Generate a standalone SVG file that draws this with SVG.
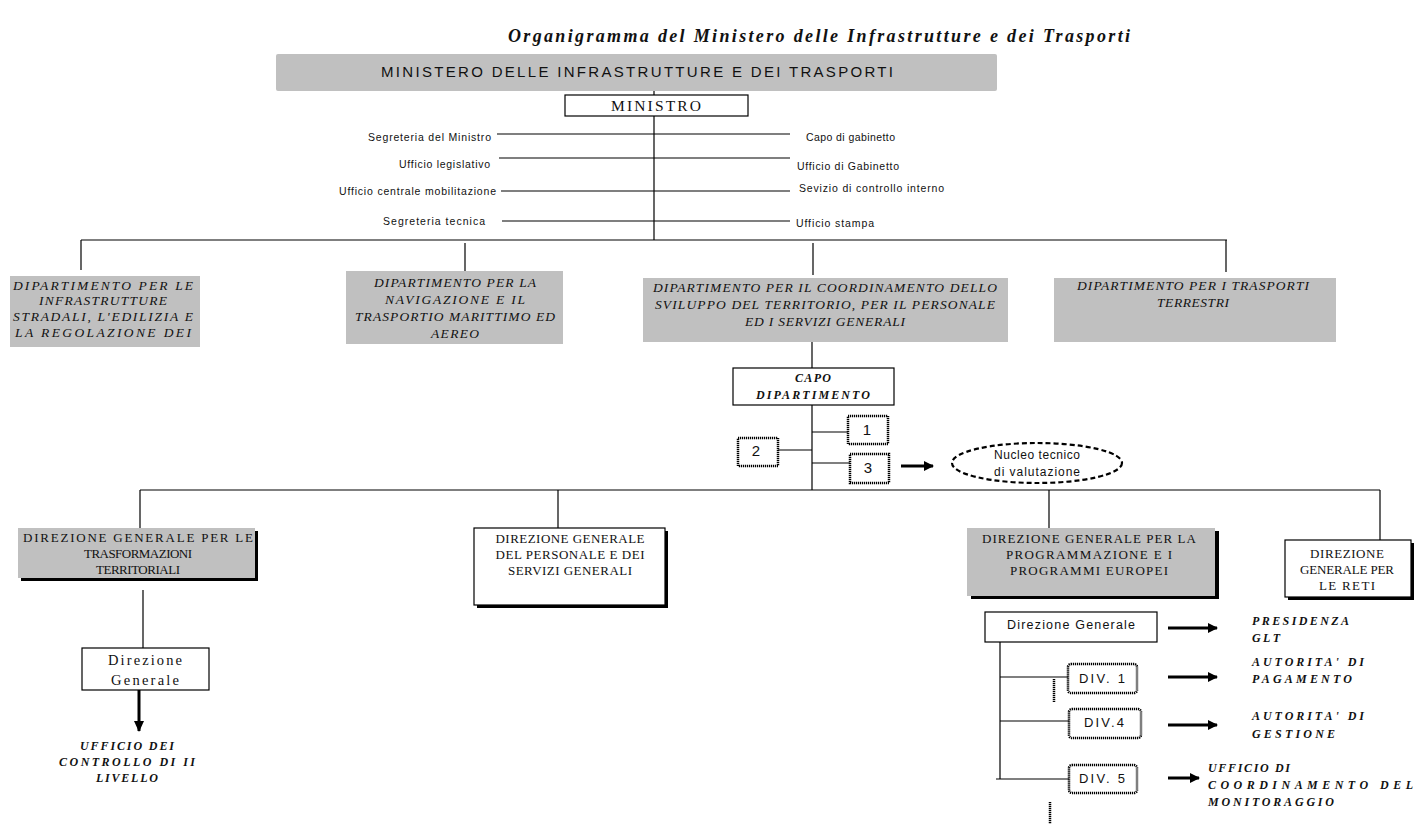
<svg xmlns="http://www.w3.org/2000/svg" width="1416" height="824" viewBox="0 0 1416 824">
<defs>
<marker id="ah" markerWidth="10" markerHeight="10" refX="9" refY="5" orient="auto" markerUnits="userSpaceOnUse">
<path d="M0,0 L10,5 L0,10 z" fill="#000"/>
</marker>
<marker id="ahd" markerWidth="12" markerHeight="10" refX="10" refY="5" orient="auto" markerUnits="userSpaceOnUse">
<path d="M0,0 L11,5 L0,10 z" fill="#000"/>
</marker>
</defs>
<style>
.gray{fill:#c0c0c0;stroke:none}
.box{fill:#fff;stroke:#000;stroke-width:1.2}
.shadow{fill:#000}
.dot{fill:#fff;stroke:#000;stroke-width:2.5;stroke-dasharray:1.2 0.8}
.ln{stroke:#000;stroke-width:1.2;fill:none}
.thick{stroke:#000;stroke-width:3;fill:none}
.dotl{stroke:#000;stroke-width:2.5;stroke-dasharray:1.2 0.8;fill:none}
.sans{font-family:"Liberation Sans",Arial,sans-serif;fill:#111}
.serif{font-family:"Liberation Serif","Times New Roman",serif;fill:#111}
.it{font-family:"Liberation Serif","Times New Roman",serif;font-style:italic;fill:#111}
.bi{font-family:"Liberation Serif","Times New Roman",serif;font-style:italic;font-weight:bold;fill:#111}
.c{text-anchor:middle}
.r{text-anchor:end}
</style>
<rect width="1416" height="824" fill="#fff"/>
<text class="bi c" x="819" y="42" font-size="18" textLength="622" lengthAdjust="spacing">Organigramma del Ministero delle Infrastrutture e dei Trasporti</text>

<g id="connectors">
<line class="ln" x1="654" y1="90" x2="654" y2="240"/>
<line class="ln" x1="497" y1="134" x2="790" y2="134"/>
<line class="ln" x1="499" y1="158" x2="790" y2="158"/>
<line class="ln" x1="501" y1="191" x2="790" y2="191"/>
<line class="ln" x1="502" y1="221" x2="790" y2="221"/>
<line class="ln" x1="81" y1="240" x2="1227" y2="240"/>
<line class="ln" x1="81" y1="240" x2="81" y2="270"/>
<line class="ln" x1="465" y1="243" x2="465" y2="271"/>
<line class="ln" x1="813" y1="243" x2="813" y2="275"/>
<line class="ln" x1="1226" y1="240" x2="1226" y2="272"/>
<line class="ln" x1="812" y1="334" x2="812" y2="368"/>
<line class="ln" x1="812" y1="405" x2="812" y2="490"/>
<line class="ln" x1="812" y1="432" x2="848" y2="432"/>
<line class="ln" x1="778" y1="450" x2="812" y2="450"/>
<line class="ln" x1="812" y1="463" x2="850" y2="463"/>
<line class="thick" x1="901" y1="466" x2="933" y2="466" marker-end="url(#ah)"/>
<line class="ln" x1="140" y1="490" x2="1380" y2="490"/>
<line class="ln" x1="140" y1="490" x2="140" y2="528"/>
<line class="ln" x1="558" y1="490" x2="558" y2="528"/>
<line class="ln" x1="1049" y1="490" x2="1049" y2="528"/>
<line class="ln" x1="1380" y1="490" x2="1380" y2="540"/>
<line class="ln" x1="143" y1="590" x2="143" y2="648"/>
<line class="thick" x1="139" y1="690" x2="139" y2="731" marker-end="url(#ahd)"/>
<line class="ln" x1="1000" y1="642" x2="1000" y2="779"/>
<line class="ln" x1="1000" y1="677" x2="1068" y2="677"/>
<line class="dotl" x1="1054" y1="679" x2="1054" y2="702"/>
<line class="ln" x1="1000" y1="721" x2="1069" y2="721"/>
<line class="ln" x1="996" y1="779" x2="1069" y2="779"/>
<line class="dotl" x1="1050" y1="802" x2="1050" y2="824"/>
<line class="thick" x1="1168" y1="628" x2="1217" y2="628" marker-end="url(#ah)"/>
<line class="thick" x1="1168" y1="677" x2="1217" y2="677" marker-end="url(#ah)"/>
<line class="thick" x1="1168" y1="725" x2="1217" y2="725" marker-end="url(#ah)"/>
<line class="thick" x1="1168" y1="778" x2="1199" y2="778" marker-end="url(#ah)"/>
</g>

<g id="ministero">
<rect class="gray" x="276" y="54" width="721" height="37" rx="2"/>
<text class="sans c" x="637" y="77" font-size="15" textLength="512" lengthAdjust="spacing">MINISTERO DELLE INFRASTRUTTURE E DEI TRASPORTI</text>
</g>
<g id="ministro">
<rect class="box" x="565" y="95" width="183" height="21"/>
<text class="serif c" x="656" y="111" font-size="15.5" textLength="90" lengthAdjust="spacing">MINISTRO</text>
</g>

<g id="staff" font-size="10.5">
<text class="sans r" x="491" y="141" textLength="123" lengthAdjust="spacing">Segreteria del Ministro</text>
<text class="sans r" x="490" y="168" textLength="91" lengthAdjust="spacing">Ufficio legislativo</text>
<text class="sans r" x="496" y="195" textLength="157" lengthAdjust="spacing">Ufficio centrale mobilitazione</text>
<text class="sans r" x="485" y="225" textLength="102" lengthAdjust="spacing">Segreteria tecnica</text>
<text class="sans" x="806" y="141" textLength="89" lengthAdjust="spacing">Capo di gabinetto</text>
<text class="sans" x="797" y="170" textLength="102" lengthAdjust="spacing">Ufficio di Gabinetto</text>
<text class="sans" x="799" y="192" textLength="145" lengthAdjust="spacing">Sevizio di controllo interno</text>
<text class="sans" x="796" y="227" textLength="78" lengthAdjust="spacing">Ufficio stampa</text>
</g>

<g id="dip1" font-size="13.5">
<rect class="gray" x="10" y="276" width="190" height="71"/>
<text class="it c" x="103" y="290" textLength="180" lengthAdjust="spacing">DIPARTIMENTO PER LE</text>
<text class="it c" x="103" y="305" textLength="128" lengthAdjust="spacing">INFRASTRUTTURE</text>
<text class="it c" x="103" y="321" textLength="180" lengthAdjust="spacing">STRADALI, L'EDILIZIA E</text>
<text class="it c" x="103" y="337" textLength="176" lengthAdjust="spacing">LA REGOLAZIONE DEI</text>
</g>
<g id="dip2" font-size="13.5">
<rect class="gray" x="346" y="271" width="217" height="73"/>
<text class="it c" x="455" y="287" textLength="162" lengthAdjust="spacing">DIPARTIMENTO PER LA</text>
<text class="it c" x="455" y="304" textLength="140" lengthAdjust="spacing">NAVIGAZIONE E IL</text>
<text class="it c" x="455" y="321" textLength="200" lengthAdjust="spacing">TRASPORTIO MARITTIMO ED</text>
<text class="it c" x="455" y="338" textLength="48" lengthAdjust="spacing">AEREO</text>
</g>
<g id="dip3" font-size="13.5">
<rect class="gray" x="643" y="278" width="365" height="64"/>
<text class="it c" x="825" y="292" textLength="344" lengthAdjust="spacing">DIPARTIMENTO PER IL COORDINAMENTO DELLO</text>
<text class="it c" x="825" y="309" textLength="340" lengthAdjust="spacing">SVILUPPO DEL TERRITORIO, PER IL PERSONALE</text>
<text class="it c" x="825" y="326" textLength="160" lengthAdjust="spacing">ED I SERVIZI GENERALI</text>
</g>
<g id="dip4" font-size="13.5">
<rect class="gray" x="1054" y="278" width="282" height="64"/>
<text class="it c" x="1193" y="290" textLength="232" lengthAdjust="spacing">DIPARTIMENTO PER I TRASPORTI</text>
<text class="it c" x="1193" y="307" textLength="72" lengthAdjust="spacing">TERRESTRI</text>
</g>

<g id="capo" font-size="12">
<rect class="box" x="733" y="368" width="161" height="37"/>
<text class="bi c" x="813" y="382" textLength="36" lengthAdjust="spacing">CAPO</text>
<text class="bi c" x="813" y="399" textLength="114" lengthAdjust="spacing">DIPARTIMENTO</text>
</g>
<g id="u1"><rect class="dot" x="848" y="416" width="40" height="28"/><text class="sans c" x="867" y="435" font-size="15">1</text></g>
<g id="u2"><rect class="dot" x="738" y="438" width="40" height="28"/><text class="sans c" x="756" y="456" font-size="15">2</text></g>
<g id="u3"><rect class="dot" x="850" y="454" width="39" height="29"/><text class="sans c" x="868" y="473" font-size="15">3</text></g>
<g id="nucleo">
<ellipse cx="1037" cy="463" rx="85" ry="20" fill="#fff" stroke="#000" stroke-width="2.2" stroke-dasharray="5 3"/>
<text class="sans c" x="1037" y="459" font-size="12" textLength="86" lengthAdjust="spacing">Nucleo tecnico</text>
<text class="sans c" x="1037" y="476" font-size="12" textLength="86" lengthAdjust="spacing">di valutazione</text>
</g>

<g id="dirA" font-size="13">
<rect class="shadow" x="21" y="531" width="237" height="50"/>
<rect class="gray" x="18" y="528" width="237" height="50"/>
<text class="serif c" x="138" y="542" textLength="230" lengthAdjust="spacing">DIREZIONE GENERALE PER LE</text>
<text class="serif c" x="138" y="558" textLength="108" lengthAdjust="spacing">TRASFORMAZIONI</text>
<text class="serif c" x="138" y="574" textLength="84" lengthAdjust="spacing">TERRITORIALI</text>
</g>
<g id="dirB" font-size="13">
<rect class="shadow" x="477" y="531" width="191" height="77"/>
<rect class="box" x="474" y="528" width="191" height="77"/>
<text class="serif c" x="570" y="543" textLength="149" lengthAdjust="spacing">DIREZIONE GENERALE</text>
<text class="serif c" x="570" y="559" textLength="149" lengthAdjust="spacing">DEL PERSONALE E DEI</text>
<text class="serif c" x="570" y="575" textLength="124" lengthAdjust="spacing">SERVIZI GENERALI</text>
</g>
<g id="dirC" font-size="13">
<rect class="shadow" x="971" y="531" width="248" height="68"/>
<rect class="gray" x="967" y="528" width="248" height="68"/>
<text class="serif c" x="1089" y="543" textLength="214" lengthAdjust="spacing">DIREZIONE GENERALE PER LA</text>
<text class="serif c" x="1089" y="559" textLength="166" lengthAdjust="spacing">PROGRAMMAZIONE E I</text>
<text class="serif c" x="1089" y="575" textLength="158" lengthAdjust="spacing">PROGRAMMI EUROPEI</text>
</g>
<g id="dirD" font-size="13">
<rect class="shadow" x="1288" y="543" width="126" height="57"/>
<rect class="box" x="1285" y="540" width="126" height="57"/>
<text class="serif c" x="1347" y="558" textLength="74" lengthAdjust="spacing">DIREZIONE</text>
<text class="serif c" x="1347" y="574" textLength="94" lengthAdjust="spacing">GENERALE PER</text>
<text class="serif c" x="1347" y="590" textLength="56" lengthAdjust="spacing">LE RETI</text>
</g>

<g id="dgA" font-size="14.5">
<rect class="box" x="82" y="648" width="127" height="42"/>
<text class="serif c" x="145" y="665" textLength="74" lengthAdjust="spacing">Direzione</text>
<text class="serif c" x="145" y="685" textLength="68" lengthAdjust="spacing">Generale</text>
</g>
<g id="ufficioControllo" font-size="12">
<text class="bi c" x="127" y="750" textLength="94" lengthAdjust="spacing">UFFICIO DEI</text>
<text class="bi c" x="127" y="766" textLength="136" lengthAdjust="spacing">CONTROLLO DI II</text>
<text class="bi c" x="127" y="782" textLength="62" lengthAdjust="spacing">LIVELLO</text>
</g>

<g id="dgC">
<rect class="box" x="985" y="612" width="172" height="30"/>
<text class="sans c" x="1071" y="629" font-size="12.5" textLength="128" lengthAdjust="spacing">Direzione Generale</text>
</g>
<g id="div1"><rect class="dot" x="1068" y="664" width="69" height="29" rx="3"/><text class="sans c" x="1102" y="683" font-size="13" textLength="46" lengthAdjust="spacing">DIV. 1</text></g>
<g id="div4"><rect class="dot" x="1069" y="709" width="72" height="29" rx="3"/><text class="sans c" x="1104" y="727" font-size="13" textLength="40" lengthAdjust="spacing">DIV.4</text></g>
<g id="div5"><rect class="dot" x="1069" y="765" width="68" height="28" rx="3"/><text class="sans c" x="1102" y="783" font-size="13" textLength="46" lengthAdjust="spacing">DIV. 5</text></g>

<g id="presidenza" font-size="12">
<text class="bi" x="1252" y="625" textLength="97" lengthAdjust="spacing">PRESIDENZA</text>
<text class="bi" x="1252" y="642" textLength="28" lengthAdjust="spacing">GLT</text>
</g>
<g id="pagamento" font-size="12">
<text class="bi" x="1252" y="666" textLength="112" lengthAdjust="spacing">AUTORITA' DI</text>
<text class="bi" x="1252" y="683" textLength="100" lengthAdjust="spacing">PAGAMENTO</text>
</g>
<g id="gestione" font-size="12">
<text class="bi" x="1252" y="720" textLength="112" lengthAdjust="spacing">AUTORITA' DI</text>
<text class="bi" x="1252" y="738" textLength="83" lengthAdjust="spacing">GESTIONE</text>
</g>
<g id="monitoraggio" font-size="12">
<text class="bi" x="1208" y="772" textLength="82" lengthAdjust="spacing">UFFICIO DI</text>
<text class="bi" x="1208" y="789" textLength="205" lengthAdjust="spacing">COORDINAMENTO DEL</text>
<text class="bi" x="1208" y="806" textLength="126" lengthAdjust="spacing">MONITORAGGIO</text>
</g>
</svg>
